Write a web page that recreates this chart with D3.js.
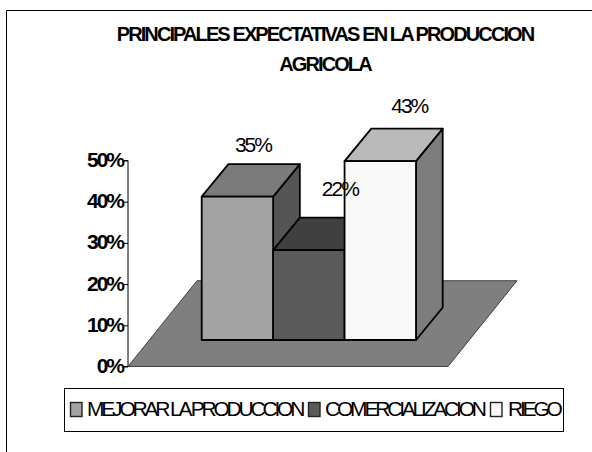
<!DOCTYPE html>
<html><head><meta charset="utf-8">
<script src="https://cdn.jsdelivr.net/npm/d3@7"></script>
<style>html,body{margin:0;padding:0;background:#fff}svg{display:block}text{font-family:"Liberation Sans",Arial,sans-serif;fill:#000}</style>
</head><body><div id="c"></div>
<script>
const categories=["MEJORAR LA PRODUCCION","COMERCIALIZACION","RIEGO"];
const values=[34.8,21.8,43.4];
const frontColors=["#a3a3a3","#5a5a5a","#f9f9f9"];
const topColors=["#7b7b7b","#404040","#b9b9b9"];
const sideColors=["#555555","#404040","#7d7d7d"];
const yTicks=[0,10,20,30,40,50];
const titleLines=["PRINCIPALES EXPECTATIVAS EN LA PRODUCCION","AGRICOLA"];

const W=592,H=452;
const svg=d3.select("#c").append("svg").attr("width",W).attr("height",H);
svg.append("path").attr("d",`M6.5,${H}V10.5H${W}`).attr("fill","none").attr("stroke","#000");

const y=d3.scaleLinear().domain([0,50]).range([366.5,160.5]);
const x=d3.scaleBand().domain(categories).range([201.7,416]);
const depth={dx:26.7,dy:32.5};
const baseDy=26.5;

const fl=[[128,366.5],[448,366.5],[517,280.7],[197,280.7]];
svg.append("polygon").attr("points",fl.join(" ")).attr("fill","#7f7f7f").attr("stroke","#222").attr("stroke-width",0.8);

const axis=d3.axisLeft(y).tickValues(yTicks).tickSize(4).tickFormat(d=>d+"%");
const ga=svg.append("g").attr("transform","translate(128,0)").call(axis);
ga.selectAll("path,line").attr("stroke","#000");
ga.select(".domain").attr("d",`M-4,${y(50)}H0V${y(0)}H-4`);
ga.selectAll("text").attr("font-size",21).attr("font-weight","bold").attr("letter-spacing",-2).attr("fill","#000").attr("x",-5).attr("dy",6);

const g=svg.append("g").attr("stroke","#000").attr("stroke-width",1.8).attr("stroke-linejoin","round");
categories.forEach((c,i)=>{
  const x0=x(c),x1=x0+x.bandwidth(),yb=y(0)-baseDy,yt=y(values[i])-baseDy;
  const d=depth;
  g.append("polygon").attr("points",[[x1,yb],[x1+d.dx,yb-d.dy],[x1+d.dx,yt-d.dy],[x1,yt]].join(" ")).attr("fill",sideColors[i]);
  g.append("polygon").attr("points",[[x0,yt],[x0+d.dx,yt-d.dy],[x1+d.dx,yt-d.dy],[x1,yt]].join(" ")).attr("fill",topColors[i]);
  g.append("rect").attr("x",x0).attr("y",yt).attr("width",x1-x0).attr("height",yb-yt).attr("fill",frontColors[i]);
});

const labelDx=[15.5,31,29], labelDy=[12,22,16];
categories.forEach((c,i)=>{
  svg.append("text").attr("x",x(c)+x.bandwidth()/2+labelDx[i]).attr("y",y(values[i])-baseDy-depth.dy-labelDy[i])
    .attr("text-anchor","middle").attr("font-size",21).attr("letter-spacing",-2)
    .text(Math.round(values[i])+"%");
});

titleLines.forEach((t,i)=>{
  svg.append("text").attr("x",325).attr("y",41+i*29.5).attr("text-anchor","middle")
   .attr("font-size",20).attr("font-weight","bold").attr("letter-spacing",-1.9).text(t);
});

svg.append("rect").attr("x",64.5).attr("y",388.5).attr("width",499).attr("height",43).attr("fill","#fff").attr("stroke","#000");
const legendX=[70.5,308.5,490.5], textX=[87,325,508];
categories.forEach((c,i)=>{
  svg.append("rect").attr("x",legendX[i]).attr("y",402.5).attr("width",11.5).attr("height",14).attr("fill",frontColors[i]).attr("stroke","#222").attr("stroke-width",1.4);
  svg.append("text").attr("x",textX[i]).attr("y",415.5).attr("font-size",21).attr("letter-spacing",-3.2).text(c);
});
</script></body></html>
